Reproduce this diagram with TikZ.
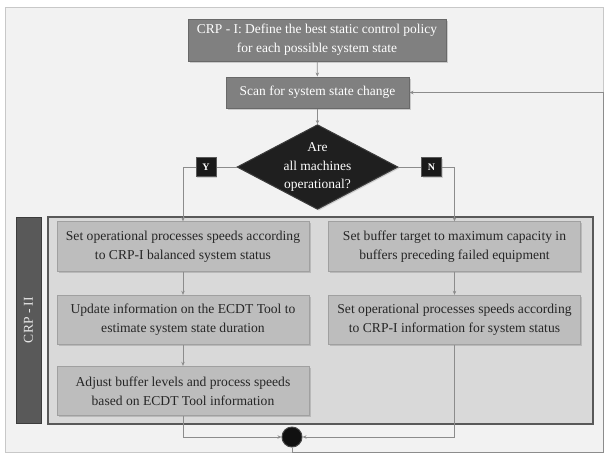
\documentclass[tikz,border=0pt]{standalone}
\usepackage{fontspec}
\setmainfont{Liberation Serif}
\usetikzlibrary{shapes.geometric,arrows.meta,shadows}

\tikzset{every picture/.style={line width=0.75pt}}
\tikzset{
	darkbox/.style={draw={rgb, 255:red, 105; green, 105; blue, 105 }, fill={rgb, 255:red, 128; green, 128; blue, 128 }, text=white, align=center, inner sep=0pt, font=\fontsize{10.1}{14}\selectfont, drop shadow={shadow xshift=1.2pt, shadow yshift=-1.2pt, opacity=0.35}},
	lightbox/.style={draw={rgb, 255:red, 160; green, 160; blue, 160 }, fill={rgb, 255:red, 189; green, 189; blue, 189 }, text={rgb, 255:red, 38; green, 38; blue, 38 }, align=center, inner sep=0pt, minimum width=189pt, minimum height=37pt, font=\fontsize{10.2}{14}\selectfont, drop shadow={shadow xshift=1.2pt, shadow yshift=-1.2pt, opacity=0.35}},
	tagbox/.style={draw={rgb, 255:red, 90; green, 90; blue, 90 }, fill={rgb, 255:red, 26; green, 26; blue, 26 }, text=white, inner sep=0pt, minimum width=15pt, minimum height=14.25pt, font=\fontsize{7.5}{9}\selectfont\bfseries, drop shadow={shadow xshift=0.8pt, shadow yshift=-0.8pt, opacity=0.3}},
	link/.style={draw={rgb, 255:red, 140; green, 140; blue, 140 }, line width=0.6pt},
	linkarrow/.style={link, -{Stealth[length=3pt,width=2.6pt]}}
}

\begin{document}
\begin{tikzpicture}[x=0.75pt,y=0.75pt,yscale=-1,xscale=1]
				\useasboundingbox (0,0) rectangle (606,462);
				
				%Shape: Rectangle [outer panel]
				\draw [draw={rgb, 255:red, 200; green, 200; blue, 200 }, fill={rgb, 255:red, 242; green, 242; blue, 242 }] (5,7) rectangle (603,452);
				%Shape: Rectangle [CRP-II frame]
				\draw [draw={rgb, 255:red, 89; green, 89; blue, 89 }, line width=1.2pt, fill={rgb, 255:red, 217; green, 217; blue, 217 }] (48,217) rectangle (593,424);
				%Shape: Rectangle [CRP-II tab]
				\draw [draw={rgb, 255:red, 60; green, 60; blue, 60 }, fill={rgb, 255:red, 89; green, 89; blue, 89 }] (16,217) rectangle (41,423);
				% Text Node
				\draw (28.5,320) node [rotate=90, text={rgb, 255:red, 230; green, 230; blue, 230 }, font=\fontsize{10.2}{12}\selectfont] (crptwo) {CRP - II};
				
				% Text Node
				\draw (317,40) node [darkbox, minimum width=193.5pt, minimum height=31.5pt] (define) {CRP - I: Define the best static control policy\\for each possible system state};
				% Text Node
				\draw (317.5,92.5) node [darkbox, minimum width=137.25pt, minimum height=23.25pt] (scan) {Scan for system state change};
				%Shape: Diamond
				\draw (317.5,167) node [diamond, aspect=1.9, inner sep=0pt, minimum width=119.25pt, minimum height=63pt, fill={rgb, 255:red, 31; green, 31; blue, 31 }, draw={rgb, 255:red, 60; green, 60; blue, 60 }, text=white, align=center, font=\fontsize{10.1}{14}\selectfont, drop shadow={shadow xshift=1pt, shadow yshift=-1pt, opacity=0.3}] (allup) {Are\\all machines\\operational?};
				% Text Node
				\draw (206,167) node [tagbox] (yes) {Y};
				% Text Node
				\draw (431.5,167) node [tagbox] (no) {N};
				
				% Text Node
				\draw (183,246.5) node [lightbox] (balanced) {Set operational processes speeds according\\to CRP-I balanced system status};
				% Text Node
				\draw (183,320) node [lightbox] (update) {Update information on the ECDT Tool to\\estimate system state duration};
				% Text Node
				\draw (183,391) node [lightbox] (adjust) {Adjust buffer levels and  process speeds\\based on ECDT Tool information};
				% Text Node
				\draw (454.5,246.5) node [lightbox] (target) {Set buffer target to maximum capacity in\\buffers preceding failed equipment};
				% Text Node
				\draw (454.5,320) node [lightbox] (failed) {Set operational processes speeds according\\to CRP-I information for system status};
				%Shape: Circle
				\draw (292,437) node [circle, inner sep=0pt, minimum size=15pt, fill={rgb, 255:red, 17; green, 17; blue, 17 }, draw={rgb, 255:red, 70; green, 70; blue, 70 }] (merge) {};
				\coordinate (corner) at (603,452);
				
				%Straight Lines
				\draw [linkarrow] (define) -- (scan);
				\draw [linkarrow] (scan) -- (allup);
				\draw [link] (allup.west) -- (yes.east);
				\draw [link] (allup.east) -- (no.west);
				\draw [linkarrow] (yes.west) -| (balanced.north);
				\draw [linkarrow] (no.east) -| (target.north);
				\draw [linkarrow] (balanced) -- (update);
				\draw [linkarrow] (update) -- (adjust);
				\draw [linkarrow] (target) -- (failed);
				\draw [linkarrow] (adjust.south) |- (merge.west);
				\draw [linkarrow] (failed.south) |- (merge.east);
				\draw [linkarrow] (merge.south) |- (corner) |- (scan.east);
				
\end{tikzpicture}
\end{document}
